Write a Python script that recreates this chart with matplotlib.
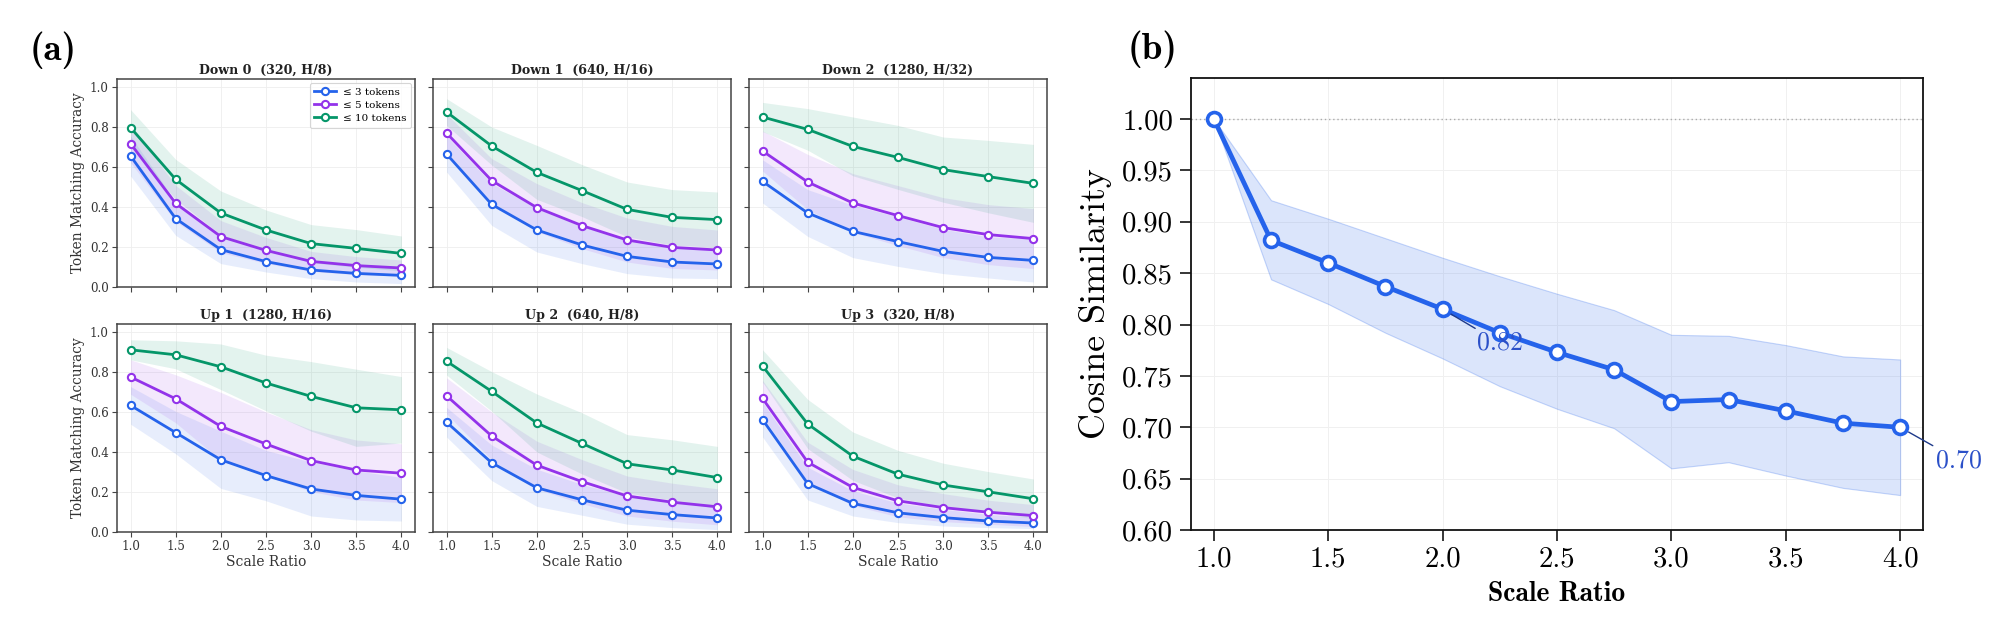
import matplotlib
matplotlib.use("Agg")
import matplotlib.pyplot as plt
import numpy as np

# ---------------- data: panel (a) ----------------
scale_ratio_a = [1.0, 1.5, 2.0, 2.5, 3.0, 3.5, 4.0]
series_labels = ["≤ 3 tokens", "≤ 5 tokens", "≤ 10 tokens"]
panel_titles = ["Down 0  (320, H/8)", "Down 1  (640, H/16)", "Down 2  (1280, H/32)",
                "Up 1  (1280, H/16)", "Up 2  (640, H/8)", "Up 3  (320, H/8)"]

# means per panel: [<=3, <=5, <=10]
down0_mean = [[0.655, 0.342, 0.187, 0.127, 0.085, 0.068, 0.058],
              [0.717, 0.418, 0.252, 0.183, 0.128, 0.107, 0.095],
              [0.797, 0.538, 0.370, 0.285, 0.217, 0.193, 0.168]]
down0_std = [[0.100, 0.084, 0.070, 0.052, 0.043, 0.043, 0.041],
             [0.095, 0.090, 0.080, 0.065, 0.050, 0.045, 0.040],
             [0.090, 0.100, 0.110, 0.100, 0.095, 0.094, 0.087]]

down1_mean = [[0.665, 0.413, 0.285, 0.210, 0.153, 0.125, 0.115],
              [0.770, 0.532, 0.397, 0.307, 0.235, 0.198, 0.185],
              [0.875, 0.705, 0.573, 0.482, 0.388, 0.348, 0.337]]
down1_std = [[0.090, 0.105, 0.110, 0.093, 0.086, 0.080, 0.073],
             [0.095, 0.110, 0.120, 0.115, 0.110, 0.105, 0.100],
             [0.067, 0.095, 0.135, 0.130, 0.137, 0.139, 0.138]]

down2_mean = [[0.528, 0.370, 0.278, 0.227, 0.178, 0.148, 0.133],
              [0.680, 0.525, 0.420, 0.357, 0.297, 0.262, 0.242],
              [0.850, 0.788, 0.703, 0.648, 0.587, 0.552, 0.518]]
down2_std = [[0.108, 0.117, 0.131, 0.124, 0.111, 0.103, 0.108],
             [0.100, 0.138, 0.147, 0.150, 0.150, 0.150, 0.150],
             [0.073, 0.104, 0.147, 0.160, 0.163, 0.181, 0.195]]

up1_mean = [[0.633, 0.497, 0.361, 0.282, 0.215, 0.183, 0.164],
            [0.775, 0.666, 0.528, 0.440, 0.357, 0.310, 0.294],
            [0.911, 0.886, 0.826, 0.745, 0.678, 0.621, 0.611]]
up1_std = [[0.094, 0.106, 0.143, 0.126, 0.135, 0.123, 0.109],
           [0.086, 0.120, 0.170, 0.160, 0.155, 0.150, 0.147],
           [0.050, 0.070, 0.114, 0.139, 0.174, 0.193, 0.166]]

up2_mean = [[0.549, 0.346, 0.221, 0.161, 0.109, 0.087, 0.070],
            [0.681, 0.480, 0.334, 0.252, 0.180, 0.149, 0.126],
            [0.854, 0.703, 0.545, 0.443, 0.341, 0.310, 0.272]]
up2_std = [[0.074, 0.089, 0.093, 0.077, 0.070, 0.065, 0.058],
           [0.090, 0.120, 0.120, 0.110, 0.100, 0.095, 0.090],
           [0.069, 0.099, 0.145, 0.153, 0.146, 0.151, 0.156]]

up3_mean = [[0.562, 0.242, 0.143, 0.096, 0.072, 0.055, 0.045],
            [0.668, 0.349, 0.223, 0.156, 0.122, 0.099, 0.082],
            [0.830, 0.540, 0.379, 0.289, 0.235, 0.201, 0.166]]
up3_std = [[0.087, 0.082, 0.063, 0.049, 0.042, 0.033, 0.028],
           [0.090, 0.100, 0.090, 0.080, 0.070, 0.060, 0.055],
           [0.081, 0.123, 0.121, 0.119, 0.109, 0.101, 0.099]]

panel_means = [down0_mean, down1_mean, down2_mean, up1_mean, up2_mean, up3_mean]
panel_stds = [down0_std, down1_std, down2_std, up1_std, up2_std, up3_std]

# ---------------- data: panel (b) ----------------
scale_ratio_b = [1.0, 1.25, 1.5, 1.75, 2.0, 2.25, 2.5, 2.75, 3.0, 3.25, 3.5, 3.75, 4.0]
cos_mean = [1.000, 0.882, 0.860, 0.837, 0.815, 0.792, 0.773, 0.756, 0.725, 0.727, 0.716, 0.704, 0.700]
cos_upper = [1.000, 0.921, 0.903, 0.884, 0.865, 0.847, 0.830, 0.814, 0.790, 0.789, 0.780, 0.769, 0.766]
cos_lower = [1.000, 0.844, 0.820, 0.792, 0.767, 0.740, 0.718, 0.699, 0.660, 0.666, 0.653, 0.641, 0.634]
b_xticks = [1.0, 1.5, 2.0, 2.5, 3.0, 3.5, 4.0]
b_yticks = [0.60, 0.65, 0.70, 0.75, 0.80, 0.85, 0.90, 0.95, 1.00]

# ---------------- style ----------------
colors = ["#2563EB", "#9333EA", "#059669"]
W, H = 2000, 629
fig = plt.figure(figsize=(W / 100, H / 100), dpi=100)
serif = "DejaVu Serif"
cm = "cmr10"
cmb = "cmb10"


def fit_size(text_obj, target_px, dim="w"):
    """Scale a text's font size so its rendered extent matches target_px."""
    r = fig.canvas.get_renderer()
    for _ in range(2):
        bb = text_obj.get_window_extent(r)
        cur = bb.width if dim == "w" else bb.height
        if cur > 0:
            text_obj.set_fontsize(text_obj.get_fontsize() * target_px / cur)
    return text_obj.get_fontsize()


col_x = [117, 433, 749]
col_w = 298
row_top = [79, 324]
row_h = 208

axes_a = []
for i in range(6):
    r, c = divmod(i, 3)
    ax = fig.add_axes([col_x[c] / W, 1 - (row_top[r] + row_h) / H, col_w / W, row_h / H])
    axes_a.append(ax)
    x = np.array(scale_ratio_a)
    for k in range(3):
        m = np.array(panel_means[i][k])
        s = np.array(panel_stds[i][k])
        ax.fill_between(x, m - s, m + s, color=colors[k], alpha=0.11, linewidth=0)
    for k in range(3):
        ax.plot(x, panel_means[i][k], color=colors[k], lw=2.0, marker="o", ms=5.2,
                mfc="white", mec=colors[k], mew=1.5, label=series_labels[k], zorder=3)
    ax.set_xlim(0.85, 4.15)
    ax.set_ylim(0.0, 1.04)
    ax.set_yticks([0.0, 0.2, 0.4, 0.6, 0.8, 1.0])
    ax.set_xticks(scale_ratio_a)
    ax.grid(True, color="#eeeeee", lw=0.6)
    ax.set_axisbelow(True)
    for sp in ax.spines.values():
        sp.set_color("#444444")
        sp.set_linewidth(1.1)
    ax.tick_params(direction="out", length=3.5, width=0.8, colors="#444444",
                   labelsize=9.5, labelcolor="#333333", pad=2.5)
    ax.set_title(panel_titles[i], fontsize=9.4, fontweight="bold", family=serif,
                 color="#222222", pad=3.5)
    if r == 0:
        ax.tick_params(labelbottom=False)
    else:
        ax.set_xlabel("Scale Ratio", fontsize=10.3, family=serif, color="#333333")
        ax.xaxis.set_label_coords(0.5, -(554 - 531) / row_h)
    if c == 0:
        ax.set_ylabel("Token Matching Accuracy", fontsize=9.3, family=serif, color="#333333")
        ax.yaxis.set_label_coords(-(117 - 85) / col_w, 0.5)
    else:
        ax.tick_params(labelleft=False)

leg = axes_a[0].legend(loc="upper right", prop={"family": serif, "size": 8.0},
                       frameon=True, borderpad=0.4, handlelength=2.0, labelspacing=0.3,
                       handletextpad=0.6, borderaxespad=0.35)
leg.get_frame().set_edgecolor("#cccccc")
leg.get_frame().set_linewidth(0.8)

lab_a = fig.text(30 / W, 1 - 50 / H, "(a)", fontsize=26, family=cmb, va="center", ha="left")

# ---------------- panel (b) ----------------
bx0, bx1, by0, by1 = 1191, 1923, 78, 530
axb = fig.add_axes([bx0 / W, 1 - by1 / H, (bx1 - bx0) / W, (by1 - by0) / H])
xb = np.array(scale_ratio_b)
axb.fill_between(xb, cos_lower, cos_upper, facecolor=(0.145, 0.388, 0.922, 0.16),
                 edgecolor=(0.145, 0.388, 0.922, 0.25), linewidth=0.8)
axb.axhline(1.0, color="#aaaaaa", lw=1.0, ls=(0, (1, 2)), zorder=1)
axb.plot(xb, cos_mean, color=colors[0], lw=3.4, marker="o", ms=10, mfc="white",
         mec=colors[0], mew=2.6, zorder=3)
axb.set_xlim(0.9, 4.1)
axb.set_ylim(0.60, 1.04)
axb.set_yticks(b_yticks)
axb.set_yticklabels([f"{v:.2f}" for v in b_yticks], family=cm)
axb.set_xticks(b_xticks)
axb.set_xticklabels([f"{v:.1f}" for v in b_xticks], family=cm)
axb.grid(True, color="#f0f0f0", lw=0.7)
axb.set_axisbelow(True)
for sp in axb.spines.values():
    sp.set_color("#111111")
    sp.set_linewidth(1.3)
axb.tick_params(direction="out", length=8, width=1.1, labelsize=20)
axb.tick_params(axis="x", pad=4)
axb.tick_params(axis="y", pad=5)
axb.set_ylabel("Cosine Similarity", fontsize=25, family=cm)
axb.yaxis.set_label_coords(-(bx0 - 1112) / (bx1 - bx0), 0.5)
axb.set_xlabel("Scale Ratio", fontsize=19, family=cmb)
axb.xaxis.set_label_coords(0.5, -(581 - by1) / (by1 - by0))

ann_color = "#2b50c8"
ann1 = axb.annotate("0.82", xy=(scale_ratio_b[4], cos_mean[4]), xytext=(2.15, 0.782),
                    fontsize=18, family=cm, color=ann_color, va="center", ha="left",
                    arrowprops=dict(arrowstyle="-", color="#1e3a8a", lw=1.0, shrinkA=0, shrinkB=7),
                    zorder=4)
ann2 = axb.annotate("0.70", xy=(scale_ratio_b[-1], cos_mean[-1]), xytext=(4.155, 0.668),
                    fontsize=18, family=cm, color=ann_color, va="center", ha="left",
                    arrowprops=dict(arrowstyle="-", color="#1e3a8a", lw=1.0, shrinkA=0, shrinkB=7),
                    annotation_clip=False, zorder=4)

lab_b = fig.text(1128 / W, 1 - 49 / H, "(b)", fontsize=26, family=cmb, va="center", ha="left")

# ---------------- match text sizes to the reference extents ----------------
fig.canvas.draw()
rnd = fig.canvas.get_renderer()

# panel (a) tick labels: "1.0" ~19 px wide
t = axes_a[0].get_yticklabels()[-1]
bb = t.get_window_extent(rnd)
sz_a = 9.5 * 19.0 / bb.width if bb.width > 0 else 9.5
for ax in axes_a:
    ax.tick_params(labelsize=sz_a)
    for lab in ax.get_xticklabels() + ax.get_yticklabels():
        lab.set_fontfamily(serif)
        lab.set_fontsize(sz_a)

sz_title = fit_size(axes_a[0].title, 133, "w")
for ax in axes_a[1:]:
    ax.title.set_fontsize(sz_title)
sz_yl = fit_size(axes_a[0].yaxis.label, 183, "h")
axes_a[3].yaxis.label.set_fontsize(sz_yl)
sz_xl = fit_size(axes_a[3].xaxis.label, 80, "w")
for ax in axes_a[4:]:
    ax.xaxis.label.set_fontsize(sz_xl)
leg_txt = leg.get_texts()[2]
sz_leg = fit_size(leg_txt, 63, "w")
for tt in leg.get_texts():
    tt.set_fontsize(sz_leg)

# panel (b)
t = axb.get_yticklabels()[-1]
bb = t.get_window_extent(rnd)
sz_b = 20 * 51.0 / bb.width if bb.width > 0 else 20
axb.tick_params(labelsize=sz_b)
for lab in axb.get_xticklabels() + axb.get_yticklabels():
    lab.set_fontfamily(cm)
    lab.set_fontsize(sz_b)
fit_size(axb.yaxis.label, 271, "h")
fit_size(axb.xaxis.label, 137, "w")
# annotation labels: same glyph count as "1.00", ~46 px wide
sz_ann = sz_b * 46.0 / 51.0
ann1.set_fontsize(sz_ann)
ann2.set_fontsize(sz_ann)
fit_size(lab_a, 47, "w")
fit_size(lab_b, 50, "w")

fig.savefig("out.png", dpi=100, facecolor="white")
